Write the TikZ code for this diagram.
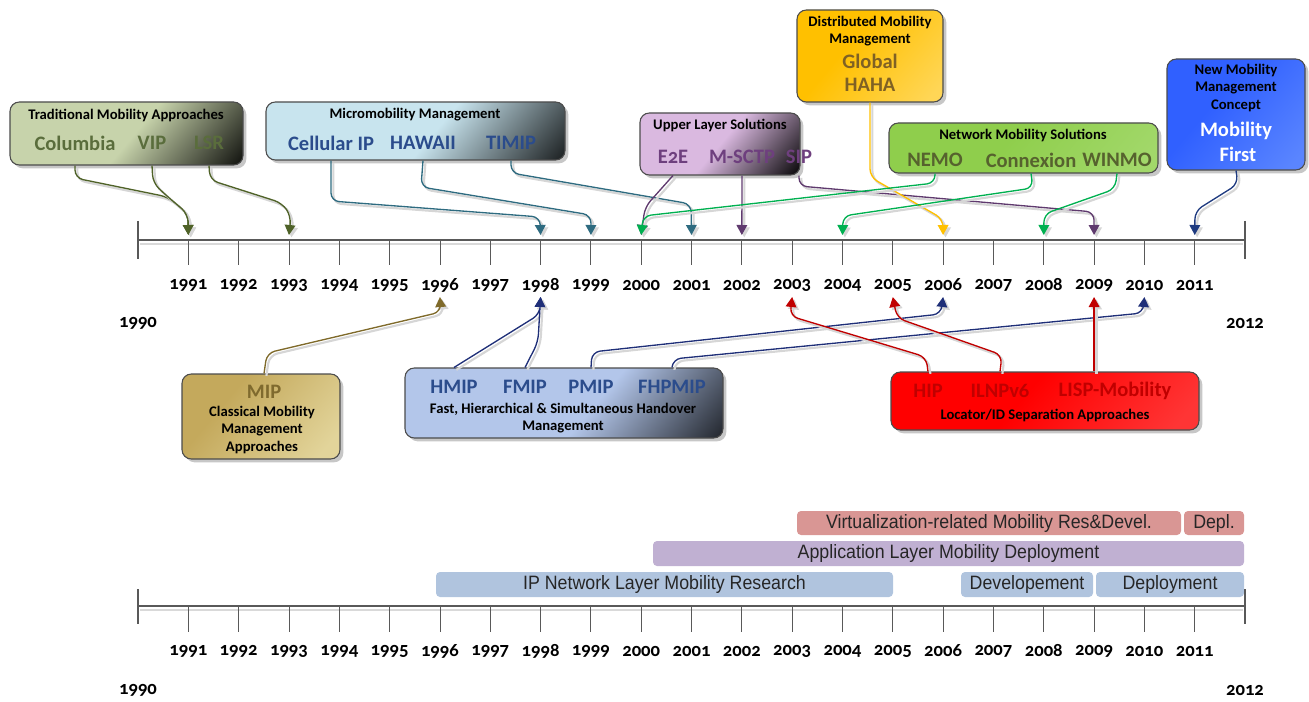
\documentclass[tikz,border=0pt]{standalone}
\usepackage{fontspec}
\setmainfont{Carlito}[Numbers=OldStyle]
\newfontfamily\barfont{Liberation Sans}[FakeStretch=0.92]
\usetikzlibrary{arrows.meta,shadows,fit,calc}
\definecolor{tradL}{HTML}{C7D3AB}
\definecolor{microL}{HTML}{C8E4EE}
\definecolor{upperL}{HTML}{DAB9E0}
\definecolor{handL}{HTML}{B3C6EA}
\definecolor{dmmA}{HTML}{FFC000}
\definecolor{dmmB}{HTML}{FFD656}
\definecolor{newA}{HTML}{3060FF}
\definecolor{newB}{HTML}{5A85FF}
\definecolor{mipA}{HTML}{C4A95C}
\definecolor{mipB}{HTML}{E2D49A}
\definecolor{locA}{HTML}{FF0000}
\definecolor{locB}{HTML}{FF3535}
\definecolor{nemoA}{HTML}{8FCE4C}
\definecolor{nemoB}{HTML}{A2D86A}
\definecolor{itOlive}{HTML}{5A6D3C}
\definecolor{itBlue}{HTML}{2B4C8C}
\definecolor{itPurple}{HTML}{6E3F7E}
\definecolor{itBrown}{HTML}{7F6124}
\definecolor{itNemo}{HTML}{56622E}
\definecolor{itMip}{HTML}{7F6A2E}
\definecolor{itRed}{HTML}{C00000}
\definecolor{cOlive}{HTML}{4F6228}
\definecolor{cTeal}{HTML}{2E6B80}
\definecolor{cPurple}{HTML}{5F3A6E}
\definecolor{cGold}{HTML}{FFC000}
\definecolor{cGreen}{HTML}{00B050}
\definecolor{cNavy}{HTML}{1F3B80}
\definecolor{cNavyB}{HTML}{1F2F78}
\definecolor{cMip}{HTML}{7F6A2A}
\definecolor{cRed}{HTML}{C00000}
\definecolor{axisc}{HTML}{595959}
\definecolor{virtc}{HTML}{D99694}
\definecolor{appc}{HTML}{C0B0D2}
\definecolor{ipc}{HTML}{B0C4DE}
\pgfdeclarehorizontalshading{tradsh}{100bp}{color(0bp)=(tradL); color(52bp)=(tradL); color(88bp)=(black); color(100bp)=(black)}
\pgfdeclarehorizontalshading{microsh}{100bp}{color(0bp)=(microL); color(54bp)=(microL); color(90bp)=(black); color(100bp)=(black)}
\pgfdeclarehorizontalshading{uppersh}{100bp}{color(0bp)=(upperL); color(50bp)=(upperL); color(86bp)=(black); color(100bp)=(black)}
\pgfdeclarehorizontalshading{handsh}{100bp}{color(0bp)=(handL); color(56bp)=(handL); color(92bp)=(black); color(100bp)=(black)}
\pgfdeclarehorizontalshading{dmmsh}{100bp}{color(0bp)=(dmmA); color(40bp)=(dmmA); color(80bp)=(dmmB); color(100bp)=(dmmB)}
\pgfdeclarehorizontalshading{newsh}{100bp}{color(0bp)=(newA); color(40bp)=(newA); color(80bp)=(newB); color(100bp)=(newB)}
\pgfdeclarehorizontalshading{mipsh}{100bp}{color(0bp)=(mipA); color(35bp)=(mipA); color(78bp)=(mipB); color(100bp)=(mipB)}
\pgfdeclarehorizontalshading{locsh}{100bp}{color(0bp)=(locA); color(45bp)=(locA); color(80bp)=(locB); color(100bp)=(locB)}
\pgfdeclarehorizontalshading{nemosh}{100bp}{color(0bp)=(nemoA); color(45bp)=(nemoA); color(80bp)=(nemoB); color(100bp)=(nemoB)}
\tikzset{
  box/.style={draw=black!70, line width=0.8pt, rounded corners=7pt, inner sep=0pt,
    shading angle=-40,
    drop shadow={shadow xshift=2.5pt, shadow yshift=-2.5pt, fill=black, opacity=0.22}},
  ttl/.style={font=\bfseries\fontsize{11}{13}\selectfont, align=center, inner sep=0pt, text=black},
  itm/.style={font=\bfseries\fontsize{15.4}{18}\selectfont, inner sep=1pt},
  con/.style={line width=1pt, rounded corners=6pt, -{Triangle[width=8pt,length=7.5pt]},
    preaction={draw=black!16, line width=1.6pt, transform canvas={shift={(1.8pt,-1.8pt)}}}},
  axisline/.style={draw=axisc, line width=2.2pt},
  tick/.style={draw=axisc, line width=0.6pt},
  year/.style={font=\bfseries\fontsize{14}{16}\selectfont, inner sep=0pt},
  bar/.style={rounded corners=3pt, inner sep=0pt},
  bartxt/.style={font=\barfont\fontsize{14.5}{16}\selectfont, text=black!85, inner sep=0pt}
}
\begin{document}
\begin{tikzpicture}[x=0.75pt,y=-0.75pt]
\useasboundingbox (0,0) rectangle (1309,702);
\foreach \i in {1,...,21} {
  \pgfmathtruncatemacro\yr{1990+\i}
  \coordinate (a\yr) at ({138+\i*50.32},235);
  \coordinate (u\yr) at ({138+\i*50.32},297);
}
% ---------- top axis ----------
\draw[draw=black!15, line width=2pt] (140,244) -- (1243,244);
\foreach \i in {1,...,21} \draw[tick] ({138+\i*50.32},240) -- ({138+\i*50.32},265);
\draw[axisline] (138,240) -- (1245,240);
\draw[axisline] (138,221) -- (138,259);
\draw[axisline] (1245,221) -- (1245,259);
\foreach \i in {1,...,21} {
  \pgfmathtruncatemacro\yr{1990+\i}
  \node[year] at ({138+\i*50.32},285) {\yr};
}
\node[year] at (138,323) {1990};
\node[year] at (1245,323) {2012};
% ---------- boxes top ----------
\node[box, shading=tradsh, fit={(10,102) (243,165)}] (trad) {};
\node[ttl] at (126,115) {Traditional Mobility Approaches};
\node[itm, text=itOlive] (columbia) at (75,143) {Columbia};
\node[itm, text=itOlive] (vip) at (152,143) {VIP};
\node[itm, text=itOlive] (lsr) at (209,143) {LSR};

\node[box, shading=microsh, fit={(266,102) (565,160)}] (micro) {};
\node[ttl] at (415,115) {Micromobility Management};
\node[itm, text=itBlue] (cell) at (331,143) {Cellular IP};
\node[itm, text=itBlue] (hawaii) at (423,143) {HAWAII};
\node[itm, text=itBlue] (timip) at (511,143) {TIMIP};

\node[box, shading=uppersh, fit={(640,113) (800,175)}] (upper) {};
\node[ttl] at (720,125) {Upper Layer Solutions};
\node[itm, text=itPurple] (e2e) at (673,157) {E2E};
\node[itm, text=itPurple] (msctp) at (742,157) {M-SCTP};
\node[itm, text=itPurple] (sip) at (799,157) {SIP};

\node[box, shading=dmmsh, fit={(797,10) (943,102)}] (dmm) {};
\node[ttl] at (870,31) {Distributed Mobility\\Management};
\node[itm, text=itBrown] (global) at (870,61) {Global};
\node[itm, text=itBrown] (haha) at (870,85) {HAHA};

\node[box, shading=nemosh, fit={(889,123) (1158,173)}] (nbox) {};
\node[ttl] at (1023,135) {Network Mobility Solutions};
\node[itm, text=itNemo] (nemo) at (935,160) {NEMO};
\node[itm, text=itNemo] (connexion) at (1031,160) {Connexion};
\node[itm, text=itNemo] (winmo) at (1117,160) {WINMO};

\node[box, shading=newsh, fit={(1167,59) (1305,170)}] (newmob) {};
\node[ttl] at (1236,88) {New Mobility\\Management\\Concept};
\node[itm, text=white] (mobility) at (1236,131) {Mobility};
\node[itm, text=white] (first) at (1238,154) {First};
% ---------- boxes bottom ----------
\node[box, shading=mipsh, fit={(182,374) (340,459)}] (mipbox) {};
\node[itm, text=itMip] (mip) at (264,392) {MIP};
\node[ttl] at (262,430) {Classical Mobility\\Management\\Approaches};

\node[box, shading=handsh, fit={(405,368) (723,438)}] (hand) {};
\node[itm, text=itBlue] (hmip) at (454,387) {HMIP};
\node[itm, text=itBlue] (fmip) at (525,387) {FMIP};
\node[itm, text=itBlue] (pmip) at (591,387) {PMIP};
\node[itm, text=itBlue] (fhpmip) at (672,387) {FHPMIP};
\node[ttl] at (563,418) {Fast, Hierarchical \& Simultaneous Handover\\Management};

\node[box, shading=locsh, fit={(891,372) (1199,430)}] (loc) {};
\node[itm, text=itRed] (hip) at (928,391) {HIP};
\node[itm, text=itRed] (ilnp) at (1000,391) {ILNPv6};
\node[itm, text=itRed] (lisp) at (1115,391) {LISP-Mobility};
\node[ttl] at (1045,415) {Locator/ID Separation Approaches};
% ---------- connectors top ----------
\draw[con, draw=cOlive] (columbia |- trad.south) -- (75,178) -- (168,197) -- (188,214) -- (a1991);
\draw[con, draw=cOlive] (vip |- trad.south) -- (153,183) -- (168,197) -- (188,214) -- (a1991);
\draw[con, draw=cOlive] (lsr |- trad.south) -- (210,180) -- (282,203) -- (291,216) -- (a1993);
\draw[con, draw=cTeal] (cell |- micro.south) -- (331,201) -- (540,217) -- (a1998);
\draw[con, draw=cTeal] (hawaii |- micro.south) -- (421,187) -- (591,215) -- (a1999);
\draw[con, draw=cTeal] (timip |- micro.south) -- (511,173) -- (691,204) -- (a2001);
\draw[con, draw=cPurple] (e2e |- upper.south) -- (645,207) -- (a2000);
\draw[con, draw=cPurple] (msctp |- upper.south) -- (a2002);
\draw[con, draw=cPurple] (sip |- upper.south) -- (799,186) -- (1094,212) -- (a2009);
\draw[con, draw=cGold] (dmm.south) -- (870,177) -- (943,219) -- (a2006);
\draw[con, draw=cGreen] (nemo |- nbox.south) -- (935,183) -- (643,216) -- (a2000);
\draw[con, draw=cGreen] (connexion |- nbox.south) -- (1033,188) -- (843,216) -- (a2004);
\draw[con, draw=cGreen] (winmo |- nbox.south) -- (1115,189) -- (1044,214) -- (a2008);
\draw[con, draw=cNavy] (mobility |- newmob.south) -- (1238,184) -- (1195,211) -- (a2011);
% ---------- connectors bottom ----------
\draw[con, draw=cMip] (mip |- mipbox.north) -- (267,353) -- (441,312) -- (u1996);
\draw[con, draw=cNavyB] (hmip |- hand.north) -- (540,314) -- (u1998);
\draw[con, draw=cNavyB] (fmip |- hand.north) -- (538,342) -- (u1998);
\draw[con, draw=cNavyB] (pmip |- hand.north) -- (592,352) -- (941,314) -- (u2006);
\draw[con, draw=cNavyB] (fhpmip |- hand.north) -- (673,359) -- (1143,313) -- (u2010);
\draw[con, draw=cRed] (hip |- loc.north) -- (926,357) -- (790,316) -- (u2003);
\draw[con, draw=cRed] (ilnp |- loc.north) -- (1002,355) -- (897,318) -- (u2005);
\draw[con, draw=cRed] (u2009 |- loc.north) -- (u2009);
% ---------- bottom timeline ----------
\node[bar, fill=virtc, fit={(797,511) (1181,535)}] (virt) {};
\node[bartxt] at (virt) {Virtualization-related Mobility Res\&Devel.};
\node[bar, fill=virtc, fit={(1184,511) (1244,535)}] (depl) {};
\node[bartxt] at (depl) {Depl.};
\node[bar, fill=appc, fit={(653,541) (1244,566)}] (app) {};
\node[bartxt] at (app) {Application Layer Mobility Deployment};
\node[bar, fill=ipc, fit={(436,572) (893,597)}] (ipnet) {};
\node[bartxt] at (ipnet) {IP Network Layer Mobility Research};
\node[bar, fill=ipc, fit={(961,572) (1093,597)}] (devel) {};
\node[bartxt] at (devel) {Developement};
\node[bar, fill=ipc, fit={(1096,572) (1244,597)}] (deploy) {};
\node[bartxt] at (deploy) {Deployment};

\draw[draw=black!15, line width=2pt] (140,610) -- (1243,610);
\foreach \i in {1,...,21} \draw[tick] ({138+\i*50.32},606) -- ({138+\i*50.32},632);
\draw[axisline] (138,606) -- (1245,606);
\draw[axisline] (138,589) -- (138,624);
\draw[axisline] (1245,589) -- (1245,624);
\foreach \i in {1,...,21} {
  \pgfmathtruncatemacro\yr{1990+\i}
  \node[year] at ({138+\i*50.32},651) {\yr};
}
\node[year] at (138,690) {1990};
\node[year] at (1245,690) {2012};
\end{tikzpicture}
\end{document}
